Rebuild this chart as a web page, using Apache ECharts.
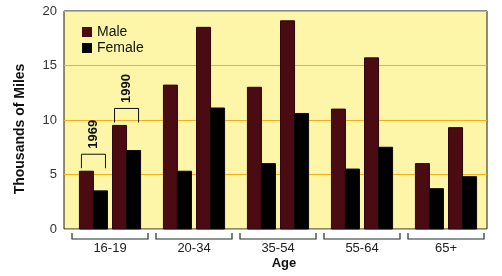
<!DOCTYPE html>
<html><head><meta charset="utf-8">
<script src="https://cdn.jsdelivr.net/npm/echarts@6/dist/echarts.min.js"></script>
<style>html,body{margin:0;padding:0;background:#fff}#c{width:502px;height:276px}</style>
</head><body><div id="c"></div>
<script>
const categories = ['16-19', '20-34', '35-54', '55-64', '65+'];
const male1969 = [5.3, 13.2, 13.0, 11.0, 6.0];
const male1990 = [9.5, 18.5, 19.1, 15.7, 9.3];
const female1969 = [3.5, 5.3, 6.0, 5.5, 3.7];
const female1990 = [7.2, 11.1, 10.6, 7.5, 4.8];
const yearLabels = ['1969', '1990'];
const yTicks = [0, 5, 10, 15, 20];

const MALE = '#4b0b13', FEMALE = '#000000';
const chart = echarts.init(document.getElementById('c'), null, {renderer: 'canvas'});

function slotX(api, idx, slot) {
  const cx = api.coord([idx, 0])[0];
  const bw = api.size([1, 0])[0];
  const barW = bw * 0.167, gap = bw * 0.06;
  const starts = [cx - gap / 2 - 2 * barW, cx - gap / 2 - barW, cx + gap / 2, cx + gap / 2 + barW];
  return {x: starts[slot], w: barW};
}
function barRender(color) {
  return function (params, api) {
    const idx = api.value(0), val = api.value(1), slot = api.value(2);
    const s = slotX(api, idx, slot);
    const top = api.coord([idx, val])[1];
    const base = api.coord([idx, 0])[1];
    return {type: 'rect', shape: {x: s.x, y: top, width: s.w, height: base - top},
      style: {fill: color, stroke: color === FEMALE ? '#0a0a0a' : '#2e050a', lineWidth: 1}};
  };
}
const maleData = [], femaleData = [];
categories.forEach((c, i) => {
  maleData.push([i, male1969[i], 0]); maleData.push([i, male1990[i], 2]);
  femaleData.push([i, female1969[i], 1]); femaleData.push([i, female1990[i], 3]);
});

chart.setOption({
  animation: false,
  grid: [
    {left: 64, right: 15, top: 11, bottom: 47, show: true, backgroundColor: '#fdf6a9', borderColor: '#1a1a1a', borderWidth: 1},
    {left: 68, right: 14, top: 11, bottom: 47}
  ],
  xAxis: [
    {type: 'value', gridIndex: 0, show: false, min: 0, max: 1},
    {type: 'category', gridIndex: 1, data: categories, axisLine: {show: false}, axisTick: {show: false},
     axisLabel: {margin: 13, fontSize: 13, color: '#222', fontFamily: 'Liberation Sans'}}
  ],
  yAxis: [
    {type: 'value', gridIndex: 0, min: 0, max: 20, interval: 5,
     axisLine: {show: false}, axisTick: {show: false},
     axisLabel: {margin: 7, fontSize: 13, color: '#333', fontFamily: 'Liberation Sans',
       formatter: v => yTicks.includes(v) ? String(v) : ''},
     splitLine: {show: true, lineStyle: {color: '#f1b01c', width: 1}}},
    {type: 'value', gridIndex: 1, min: 0, max: 20, show: false}
  ],
  legend: {
    orient: 'vertical', left: 77, top: 20, itemWidth: 10, itemHeight: 10, itemGap: 2, icon: 'rect',
    textStyle: {fontSize: 14, color: '#111', fontFamily: 'Liberation Sans'},
    data: ['Male', 'Female']
  },
  graphic: [
    {type: 'text', x: 20, y: 129, rotation: Math.PI / 2,
     style: {text: 'Thousands of Miles', align: 'center', verticalAlign: 'middle', font: 'bold 14px "Liberation Sans"', fill: '#111'}},
    {type: 'text', x: 284, y: 263,
     style: {text: 'Age', align: 'center', verticalAlign: 'middle', font: 'bold 13px "Liberation Sans"', fill: '#111'}}
  ],
  series: [
    {name: 'Male', type: 'custom', xAxisIndex: 1, yAxisIndex: 1, itemStyle: {color: MALE},
     renderItem: barRender(MALE), data: maleData, encode: {x: 0, y: 1}},
    {name: 'Female', type: 'custom', xAxisIndex: 1, yAxisIndex: 1, itemStyle: {color: FEMALE},
     renderItem: barRender(FEMALE), data: femaleData, encode: {x: 0, y: 1}},
    {name: 'brackets', type: 'custom', xAxisIndex: 1, yAxisIndex: 1, clip: false, silent: true,
     data: categories.map((c, i) => [i, 0]), encode: {x: 0, y: 1},
     renderItem: function (params, api) {
       const i = api.value(0);
       const cx = api.coord([i, 0])[0], base = api.coord([i, 0])[1];
       const bw = api.size([1, 0])[0];
       const l = cx - bw / 2 + 4, r = cx + bw / 2 - 4, y = base + 10;
       return {type: 'polyline', shape: {points: [[l, base + 4], [l, y], [r, y], [r, base + 4]]},
         style: {stroke: '#1f2e24', lineWidth: 1.2, fill: null}};
     }},
    {name: 'years', type: 'custom', xAxisIndex: 1, yAxisIndex: 1, clip: false, silent: true,
     data: [[0, male1969[0], 0], [0, male1990[0], 2]], encode: {x: 0, y: 1},
     renderItem: function (params, api) {
       const i = api.value(0), val = api.value(1), slot = api.value(2);
       const s = slotX(api, i, slot);
       const top = api.coord([i, val])[1];
       const l = s.x + 2, r = s.x + 2 * s.w - 2;
       const bt = top - 17, bb = top - 3;
       return {type: 'group', children: [
         {type: 'polyline', shape: {points: [[l, bb], [l, bt], [r, bt], [r, bb]]},
          style: {stroke: '#111', lineWidth: 1, fill: null}},
         {type: 'text', x: (l + r) / 2, y: bt - 20, rotation: Math.PI / 2,
          style: {text: yearLabels[params.dataIndex], align: 'center', verticalAlign: 'middle',
            font: 'bold 13px "Liberation Sans"', fill: '#111'}}
       ]};
     }}
  ]
});
</script></body></html>
